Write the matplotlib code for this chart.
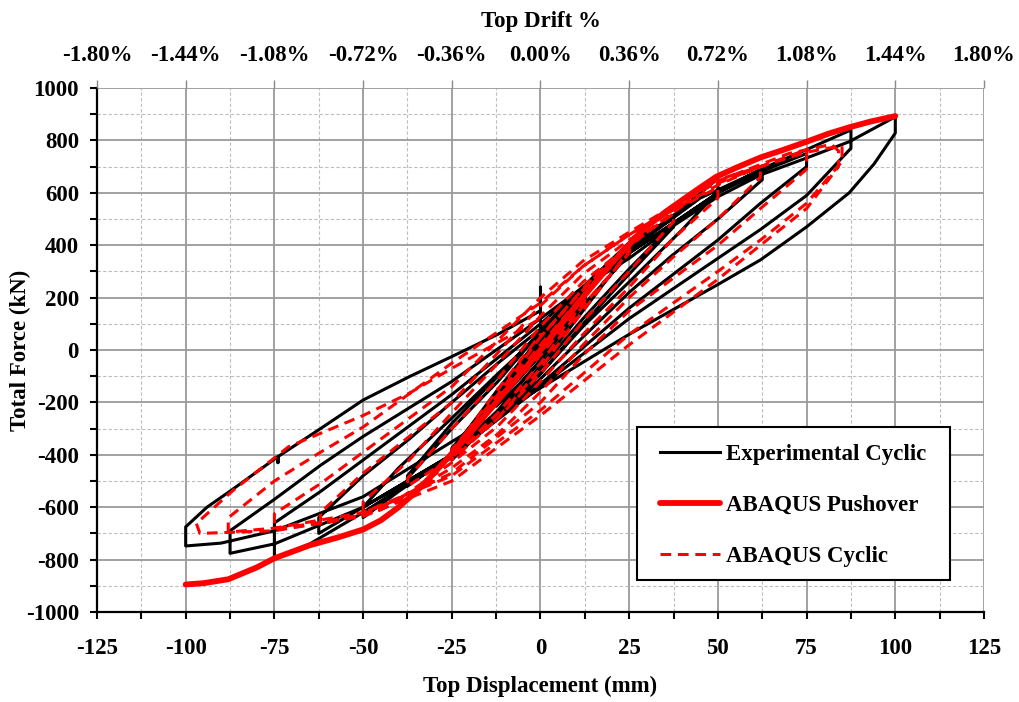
import numpy as np
import matplotlib
matplotlib.use("Agg")
import matplotlib.pyplot as plt
from matplotlib.patches import Rectangle
from matplotlib.ticker import MultipleLocator

plt.rcParams["font.family"] = ["Liberation Serif", "DejaVu Serif"]
plt.rcParams["font.weight"] = "bold"
plt.rcParams["axes.labelweight"] = "bold"
plt.rcParams["axes.unicode_minus"] = False
plt.rcParams["font.size"] = 16.5

# ---- experimental cyclic, cycles in test order (mm, kN) ----
exp_d_12 = [0, 6, 12.5, 12.5, 6, 0, -6, -12.5, -12.5, -6, 0]
exp_f_12 = [0, 100, 200, 185, 90, -20, -110, -200, -185, -90, 20]
exp_d_12b = [0, 6, 12.5, 12.5, 6, 0, -6, -12.5, -12.5, -6, 0]
exp_f_12b = [20, 120, 215, 195, 80, -40, -130, -215, -195, -70, 30]
exp_d_25 = [0, 12, 25, 25, 12, 0, -12, -25, -25, -12, 0]
exp_f_25 = [20, 220, 390, 365, 170, -40, -230, -400, -375, -170, 40]
exp_d_25b = [0, 12, 25, 25, 12, 0, -12, -25, -25, -12, 0]
exp_f_25b = [40, 240, 410, 380, 150, -60, -250, -420, -385, -150, 50]
exp_d_37 = [0, 15, 30, 37.5, 37.5, 25, 12, 0, -12, -25, -37.5, -37.5, -25, -12, 0]
exp_f_37 = [40, 260, 440, 510, 480, 310, 120, -70, -240, -400, -520, -490, -300, -120, 70]
exp_d_37b = [0, 15, 30, 37.5, 37.5, 25, 12, 0, -12, -25, -37.5, -37.5, -25, -12, 0]
exp_f_37b = [70, 280, 450, 500, 470, 290, 100, -90, -260, -410, -510, -480, -280, -100, 70]
exp_d_50 = [0, 12, 25, 40, 50, 50, 40, 25, 12, 0, -12, -25, -40, -50, -50, -40, -25, -12, 0]
exp_f_50 = [70, 230, 390, 540, 655, 605, 460, 260, 90, -90, -250, -400, -540, -640, -600,
            -450, -260, -90, 60]
exp_d_62 = [0, 12, 25, 45, 62.5, 62.5, 50, 37, 25, 12, 0, -12, -25, -50, -62.5, -62.5,
            -50, -37, -25, -12, 0]
exp_f_62 = [60, 220, 380, 580, 690, 650, 500, 360, 220, 50, -110, -260, -400, -600, -700,
            -640, -480, -340, -200, -50, 80]
exp_d_75 = [0, 12, 25, 50, 62, 75, 75, 62, 50, 25, 0, -25, -50, -65, -75, -75, -62, -50,
            -25, 0]
exp_f_75 = [80, 230, 370, 600, 680, 750, 700, 560, 420, 160, -130, -400, -620, -740, -795,
            -660, -540, -420, -170, 100]
exp_d_87 = [0, 12, 25, 50, 62, 75, 87.5, 87.5, 75, 62, 50, 25, 0, -25, -50, -75, -87.5,
            -87.5, -75, -62, -50, -25, 0]
exp_f_87 = [100, 240, 370, 600, 690, 765, 840, 770, 590, 460, 350, 120, -140, -400, -600,
            -740, -776, -690, -570, -440, -330, -120, 120]
exp_d_100 = [0, 12, 25, 37, 50, 62, 75, 87, 100, 100, 94, 87, 75, 62, 50, 25, 0, -25, -50,
             -75, -90, -100, -100, -94, -87, -74, -74, -74, -62, -50, -37, -25, -12, 0, 0, 0]
exp_f_100 = [120, 240, 350, 470, 585, 668, 733, 795, 890, 828, 710, 600, 470, 344, 250, 60,
             -145, -350, -560, -690, -737, -748, -675, -600, -534, -407, -430, -407, -300,
             -191, -102, -25, 60, 150, 240, 80]

# ---- ABAQUS cyclic ----
fe_d_12 = [0, 12.5, 12.5, 0, -12.5, -12.5, 0]
fe_f_12 = [0, 200, 185, -20, -200, -185, 20]
fe_d_25 = [0, 12, 25, 25, 12, 0, -12, -25, -25, -12, 0]
fe_f_25 = [20, 210, 400, 370, 170, -50, -240, -410, -380, -170, 50]
fe_d_25b = [0, 12, 25, 25, 12, 0, -12, -25, -25, -12, 0]
fe_f_25b = [50, 230, 410, 380, 150, -70, -260, -420, -390, -150, 60]
fe_d_37 = [0, 15, 30, 37.5, 37.5, 25, 12, 0, -12, -25, -37.5, -37.5, -25, -12, 0]
fe_f_37 = [50, 280, 450, 520, 490, 300, 110, -90, -260, -410, -520, -490, -300, -110, 90]
fe_d_50 = [0, 12, 25, 40, 50, 50, 37, 25, 12, 0, -12, -25, -40, -50, -50, -37, -25, -12, 0]
fe_f_50 = [90, 260, 400, 550, 620, 580, 420, 240, 60, -120, -290, -430, -570, -620, -580,
           -420, -240, -50, 130]
fe_d_62 = [0, 12, 25, 45, 62, 62, 50, 37, 25, 12, 0, -12, -25, -45, -62, -62, -50, -37,
           -25, -12, 0]
fe_f_62 = [130, 290, 420, 610, 700, 660, 500, 350, 200, 20, -160, -320, -450, -610, -665,
           -620, -470, -330, -200, -10, 170]
fe_d_75 = [0, 12, 25, 50, 62, 75, 75, 62, 50, 25, 12, 0, -25, -50, -65, -75, -75, -62, -50,
           -25, 0]
fe_f_75 = [170, 320, 440, 630, 700, 765, 690, 540, 400, 150, -20, -200, -470, -630, -665,
           -680, -625, -510, -390, -140, 200]
fe_d_87 = [0, 12, 25, 50, 75, 85, 85, 75, 62, 50, 25, 0, -25, -50, -75, -88, -88, -75, -62,
           -50, -25, 0]
fe_f_87 = [200, 340, 450, 650, 755, 780, 720, 560, 420, 300, 60, -230, -480, -620, -680,
           -695, -640, -500, -390, -294, -50, 180]
fe_d_97 = [0, 12, 25, 50, 70, 82, 84, 84, 75, 62, 50, 25, 0, -25, -50, -75, -96, -97, -87,
           -71, -50, -37, -25, 0]
fe_f_97 = [180, 320, 440, 645, 750, 785, 760, 700, 540, 400, 270, 20, -250, -500, -635,
           -690, -700, -662, -540, -369, -250, -165, -70, 120]

# ---- ABAQUS pushover (both directions) ----
push_d = [-100, -95, -88, -80, -75, -65, -57, -50, -45, -40, -35, -30, -20, -10, 0, 10, 20,
          28.8, 35, 40, 45, 49.5, 55, 62, 68, 75, 81, 87, 93, 100]
push_f = [-895, -890, -875, -830, -795, -745, -715, -685, -650, -600, -540, -470, -320, -160,
          0, 170, 330, 458, 525, 573, 620, 661, 695, 735, 762, 795, 825, 850, 872, 893]

x_ticks = [-125, -100, -75, -50, -25, 0, 25, 50, 75, 100, 125]
drift_labels = ["-1.80%", "-1.44%", "-1.08%", "-0.72%", "-0.36%", "0.00%", "0.36%",
                "0.72%", "1.08%", "1.44%", "1.80%"]

exp_d = (exp_d_12 + exp_d_12b + exp_d_25 + exp_d_25b + exp_d_37 + exp_d_37b + exp_d_50
         + exp_d_62 + exp_d_75 + exp_d_87 + exp_d_100)
exp_f = (exp_f_12 + exp_f_12b + exp_f_25 + exp_f_25b + exp_f_37 + exp_f_37b + exp_f_50
         + exp_f_62 + exp_f_75 + exp_f_87 + exp_f_100)
fe_d = fe_d_12 + fe_d_25 + fe_d_25b + fe_d_37 + fe_d_50 + fe_d_62 + fe_d_75 + fe_d_87 + fe_d_97
fe_f = fe_f_12 + fe_f_25 + fe_f_25b + fe_f_37 + fe_f_50 + fe_f_62 + fe_f_75 + fe_f_87 + fe_f_97

fig = plt.figure(figsize=(10.2, 7.02), dpi=100)
ax = fig.add_axes([0.0951, 0.1282, 0.8696, 0.7464])

ax.plot(exp_d, exp_f, color="black", lw=2.2, solid_joinstyle="round",
        label="Experimental Cyclic", zorder=3)
ax.plot(push_d, push_f, color="#ff0000", lw=4.2, solid_capstyle="round",
        solid_joinstyle="round", label="ABAQUS Pushover", zorder=4)
ax.plot(fe_d, fe_f, color="#ff0000", lw=2.2, dashes=(3.5, 2.2),
        label="ABAQUS Cyclic", zorder=5)

ax.set_xlim(-125, 125)
ax.set_ylim(-1000, 1000)
ax.set_xticks(x_ticks)
ax.xaxis.set_minor_locator(MultipleLocator(12.5))
ax.yaxis.set_major_locator(MultipleLocator(200))
ax.yaxis.set_minor_locator(MultipleLocator(100))
ax.grid(which="major", color="#9a9a9a", lw=1.3, zorder=0)
ax.grid(which="minor", color="#bdbdbd", lw=0.8, ls=(0, (3, 2)), zorder=0)
ax.set_axisbelow(True)
for s in ["top", "right"]:
    ax.spines[s].set_visible(False)
for s in ["left", "bottom"]:
    ax.spines[s].set_linewidth(1.6)
ax.tick_params(which="both", direction="out", width=1.5, length=5)
ax.tick_params(axis="x", which="major", pad=14)
ax.tick_params(axis="y", which="major", pad=8)

ax.set_xlabel("Top Displacement (mm)", labelpad=12)
ax.set_ylabel("Total Force (kN)")
ax.yaxis.set_label_coords(-0.074, 0.5)

ax2 = ax.twiny()
ax2.set_xlim(-125, 125)
ax2.set_xticks(x_ticks)
ax2.set_xticklabels(drift_labels)
for s in ax2.spines.values():
    s.set_visible(False)
ax2.tick_params(axis="x", direction="out", length=6, width=1, color="#888888", pad=10)
ax2.set_xlabel("Top Drift %", labelpad=13)

# legend box drawn separately so the inner padding can match
box = Rectangle((0.609, 0.061), 0.353, 0.292, transform=ax.transAxes, facecolor="white",
                edgecolor="black", lw=1.5, zorder=6)
ax.add_patch(box)
leg = ax.legend(loc="upper left", bbox_to_anchor=(0.6347, 0.3215), frameon=False,
                handlelength=2.6, handletextpad=0.28, labelspacing=1.32, borderpad=0,
                borderaxespad=0)
leg.set_zorder(7)

fig.savefig("out.png", dpi=100)
